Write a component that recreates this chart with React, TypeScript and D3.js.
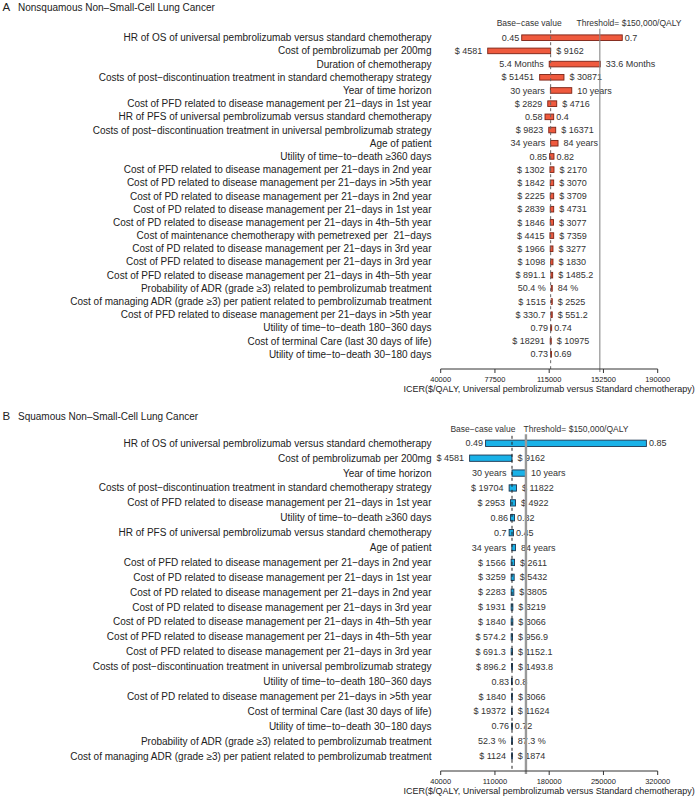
import React from "react";
import * as d3 from "d3";

// ---------- Panel A data ----------
const paramsA = [
  "HR of OS of universal pembrolizumab versus standard chemotherapy",
  "Cost of pembrolizumab per 200mg",
  "Duration of chemotherapy",
  "Costs of post\u2212discontinuation treatment in standard chemotherapy strategy",
  "Year of time horizon",
  "Cost of PFD related to disease management per 21\u2212days in 1st year",
  "HR of PFS of universal pembrolizumab versus standard chemotherapy",
  "Costs of post\u2212discontinuation treatment in universal pembrolizumab strategy",
  "Age of patient",
  "Utility of time\u2212to\u2212death \u2265360 days",
  "Cost of PFD related to disease management per 21\u2212days in 2nd year",
  "Cost of PD related to disease management per 21\u2212days in >5th year",
  "Cost of PD related to disease management per 21\u2212days in 2nd year",
  "Cost of PD related to disease management per 21\u2212days in 1st year",
  "Cost of PD related to disease management per 21\u2212days in 4th\u22125th year",
  "Cost of maintenance chemotherapy with pemetrexed per  21\u2212days",
  "Cost of PD related to disease management per 21\u2212days in 3rd year",
  "Cost of PFD related to disease management per 21\u2212days in 3rd year",
  "Cost of PFD related to disease management per 21\u2212days in 4th\u22125th year",
  "Probability of ADR (grade \u22653) related to pembrolizumab treatment",
  "Cost of managing ADR (grade \u22653) per patient related to pembrolizumab treatment",
  "Cost of PFD related to disease management per 21\u2212days in >5th year",
  "Utility of time\u2212to\u2212death 180\u2212360 days",
  "Cost of terminal Care (last 30 days of life)",
  "Utility of time\u2212to\u2212death 30\u2212180 days",
];
const leftLabelsA = ["0.45", "$ 4581", "5.4 Months", "$ 51451", "30 years", "$ 2829", "0.58", "$ 9823", "34 years", "0.85", "$ 1302", "$ 1842", "$ 2225", "$ 2839", "$ 1846", "$ 4415", "$ 1966", "$ 1098", "$ 891.1", "50.4 %", "$ 1515", "$ 330.7", "0.79", "$ 18291", "0.73"];
const rightLabelsA = ["0.7", "$ 9162", "33.6 Months", "$ 30871", "10 years", "$ 4716", "0.4", "$ 16371", "84 years", "0.82", "$ 2170", "$ 3070", "$ 3709", "$ 4731", "$ 3077", "$ 7359", "$ 3277", "$ 1830", "$ 1485.2", "84 %", "$ 2525", "$ 551.2", "0.74", "$ 10975", "0.69"];
const lowIcerA = [96000, 72500, 115000, 108400, 115800, 114000, 112100, 114700, 116000, 115300, 115500, 115700, 115700, 115700, 115700, 115500, 115700, 116000, 116200, 116400, 116400, 116200, 116000, 115700, 116000];
const highIcerA = [165500, 116000, 150300, 125200, 130600, 120200, 118100, 119500, 121100, 118300, 118300, 118100, 118100, 118100, 118000, 118100, 117600, 117600, 117400, 117100, 117100, 117100, 116700, 116400, 116600];
const ticksA = [40000, 77500, 115000, 152500, 190000];
const baseA = 116000;

// ---------- Panel B data ----------
const paramsB = [
  "HR of OS of universal pembrolizumab versus standard chemotherapy",
  "Cost of pembrolizumab per 200mg",
  "Year of time horizon",
  "Costs of post\u2212discontinuation treatment in standard chemotherapy strategy",
  "Cost of PFD related to disease management per 21\u2212days in 1st year",
  "Utility of time\u2212to\u2212death \u2265360 days",
  "HR of PFS of universal pembrolizumab versus standard chemotherapy",
  "Age of patient",
  "Cost of PFD related to disease management per 21\u2212days in 2nd year",
  "Cost of PD related to disease management per 21\u2212days in 1st year",
  "Cost of PD related to disease management per 21\u2212days in 2nd year",
  "Cost of PD related to disease management per 21\u2212days in 3rd year",
  "Cost of PD related to disease management per 21\u2212days in 4th\u22125th year",
  "Cost of PFD related to disease management per 21\u2212days in 4th\u22125th year",
  "Cost of PFD related to disease management per 21\u2212days in 3rd year",
  "Costs of post\u2212discontinuation treatment in universal pembrolizumab strategy",
  "Utility of time\u2212to\u2212death 180\u2212360 days",
  "Cost of PD related to disease management per 21\u2212days in >5th year",
  "Cost of terminal Care (last 30 days of life)",
  "Utility of time\u2212to\u2212death 30\u2212180 days",
  "Probability of ADR (grade \u22653) related to pembrolizumab treatment",
  "Cost of managing ADR (grade \u22653) per patient related to pembrolizumab treatment",
];
const leftLabelsB = ["0.49", "$ 4581", "30 years", "$ 19704", "$ 2953", "0.86", "0.7", "34 years", "$ 1566", "$ 3259", "$ 2283", "$ 1931", "$ 1840", "$ 574.2", "$ 691.3", "$ 896.2", "0.83", "$ 1840", "$ 19372", "0.76", "52.3 %", "$ 1124"];
const rightLabelsB = ["0.85", "$ 9162", "10 years", "$ 11822", "$ 4922", "0.82", "0.45", "84 years", "$ 2611", "$ 5432", "$ 3805", "$ 3219", "$ 3066", "$ 956.9", "$ 1152.1", "$ 1493.8", "0.8", "$ 3066", "$ 11624", "0.72", "87.3 %", "$ 1874"];
const lowIcerB = [97900, 77300, 132000, 128300, 130100, 130100, 128300, 131800, 130900, 130900, 130900, 130900, 130900, 130900, 130900, 131300, 131300, 131300, 131300, 131500, 131500, 131500];
const highIcerB = [305400, 132000, 149400, 137800, 136500, 135300, 134000, 136500, 135300, 134800, 134400, 133100, 133100, 132700, 132700, 132700, 132300, 132500, 132300, 132300, 132200, 132200];
const ticksB = [40000, 110000, 180000, 250000, 320000];
const baseB = 132000;

const threshold = 150000;
const titleA = "Nonsquamous Non\u2013Small-Cell Lung Cancer";
const titleB = "Squamous Non\u2013Small-Cell Lung Cancer";
const axisTitle = "ICER($/QALY, Universal pembrolizumab versus Standard chemotherapy)";
const baseText = "Base\u2212case value";
const thresholdText = "Threshold= $150,000/QALY";

const FONT = "'Liberation Sans', Arial, Helvetica, sans-serif";

type PanelProps = {
  letter: string;
  title: string;
  headY: number;
  params: string[];
  leftLabels: string[];
  rightLabels: string[];
  low: number[];
  high: number[];
  ticks: number[];
  base: number;
  y0: number;
  y1: number;
  axisY: number;
  barH: number;
  fill: string;
  stroke: string;
  dashColor: string;
  thrColor: string;
  thrWidth: number;
  baseTextDx: number;
  thrTextDx: number;
};

function Panel(p: PanelProps) {
  const x = d3
    .scaleLinear()
    .domain([p.ticks[0], p.ticks[p.ticks.length - 1]])
    .range([440.7, 657.7]);
  const y = d3
    .scalePoint<string>()
    .domain(p.params.map((_, i) => String(i)))
    .range([p.y0, p.y1]);
  const xb = x(p.base);
  const xt = x(threshold);
  const gap = (s: string) => (/^[\d.]+$/.test(s) ? 2.5 : 5.5);
  const labY = p.y0 - 14.5;
  return (
    <g>
      <text x={2.5} y={p.headY} fontSize={11.5} fill="#222">{p.letter}</text>
      <text x={18} y={p.headY} fontSize={10} fill="#222">{p.title}</text>
      <text x={xb + p.baseTextDx} y={labY + 3} fontSize={8.5} fill="#333" textAnchor="end">{baseText}</text>
      <text x={xt + p.thrTextDx} y={labY + 3} fontSize={8.5} fill="#333">{thresholdText}</text>
      {p.params.map((name, i) => {
        const yc = y(String(i)) as number;
        const xl = x(p.low[i]);
        const xr = x(p.high[i]);
        return (
          <g key={i}>
            <text x={431.5} y={yc} dy="0.35em" fontSize={10} fill="#222" textAnchor="end" style={{ whiteSpace: "pre" }}>{name}</text>
            <rect x={xl} y={yc - p.barH / 2} width={Math.max(xr - xl, 0.8)} height={p.barH} fill={p.fill} stroke={p.stroke} strokeWidth={0.9} />
            <text x={xl - gap(p.leftLabels[i])} y={yc} dy="0.35em" fontSize={9} fill="#333" textAnchor="end">{p.leftLabels[i]}</text>
            <text x={xr + gap(p.rightLabels[i])} y={yc} dy="0.35em" fontSize={9} fill="#333">{p.rightLabels[i]}</text>
          </g>
        );
      })}
      <line x1={xb} x2={xb} y1={labY + 7} y2={p.axisY} stroke={p.dashColor} strokeWidth={1} strokeDasharray="3,3" />
      <line x1={xt} x2={xt} y1={labY + 5.5} y2={p.axisY + 3} stroke={p.thrColor} strokeWidth={p.thrWidth} />
      <line x1={x(p.ticks[0])} x2={x(p.ticks[p.ticks.length - 1])} y1={p.axisY} y2={p.axisY} stroke="#333" strokeWidth={1} />
      {p.ticks.map((t) => (
        <g key={t}>
          <line x1={x(t)} x2={x(t)} y1={p.axisY} y2={p.axisY + 4} stroke="#333" strokeWidth={1} />
          <text x={x(t)} y={p.axisY + 13} fontSize={7.5} fill="#222" textAnchor="middle">{t}</text>
        </g>
      ))}
      <text x={(x(p.ticks[0]) + x(p.ticks[p.ticks.length - 1])) / 2} y={p.axisY + 22.5} fontSize={9} fill="#222" textAnchor="middle">{axisTitle}</text>
    </g>
  );
}

export default function App() {
  return (
    <svg
      width={698}
      height={799}
      style={{ position: "absolute", left: 0, top: 0, background: "#fff" }}
      fontFamily={FONT}
    >
      <rect width={698} height={799} fill="#fff" />
      <Panel
        letter="A"
        title={titleA}
        headY={10.5}
        params={paramsA}
        leftLabels={leftLabelsA}
        rightLabels={rightLabelsA}
        low={lowIcerA}
        high={highIcerA}
        ticks={ticksA}
        base={baseA}
        y0={37.7}
        y1={354.3}
        axisY={369}
        barH={5.6}
        fill="#EF5A3E"
        stroke="#7a2214"
        dashColor="#666"
        thrColor="#888"
        thrWidth={1.1}
        baseTextDx={11}
        thrTextDx={-23.3}
      />
      <Panel
        letter="B"
        title={titleB}
        headY={420}
        params={paramsB}
        leftLabels={leftLabelsB}
        rightLabels={rightLabelsB}
        low={lowIcerB}
        high={highIcerB}
        ticks={ticksB}
        base={baseB}
        y0={443.3}
        y1={756}
        axisY={771}
        barH={6.3}
        fill="#1AB2E8"
        stroke="#1d3550"
        dashColor="#222"
        thrColor="#999"
        thrWidth={2.4}
        baseTextDx={3.4}
        thrTextDx={-2.4}
      />
    </svg>
  );
}
